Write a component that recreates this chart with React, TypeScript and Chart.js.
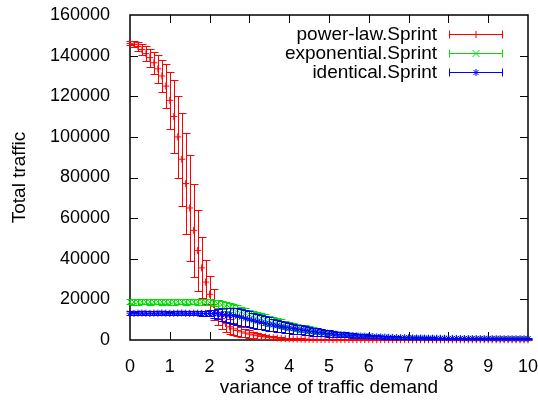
import { useEffect, useRef } from 'react';
import { Chart, registerables } from 'chart.js';

Chart.register(...registerables);

const xValues = [
  0, 0.1, 0.2, 0.3, 0.4, 0.5, 0.6, 0.7, 0.8, 0.9,
  1, 1.1, 1.2, 1.3, 1.4, 1.5, 1.6, 1.7, 1.8, 1.9,
  2, 2.1, 2.2, 2.3, 2.4, 2.5, 2.6, 2.7, 2.8, 2.9,
  3, 3.1, 3.2, 3.3, 3.4, 3.5, 3.6, 3.7, 3.8, 3.9,
  4, 4.1, 4.2, 4.3, 4.4, 4.5, 4.6, 4.7, 4.8, 4.9,
  5, 5.1, 5.2, 5.3, 5.4, 5.5, 5.6, 5.7, 5.8, 5.9,
  6, 6.1, 6.2, 6.3, 6.4, 6.5, 6.6, 6.7, 6.8, 6.9,
  7, 7.1, 7.2, 7.3, 7.4, 7.5, 7.6, 7.7, 7.8, 7.9,
  8, 8.1, 8.2, 8.3, 8.4, 8.5, 8.6, 8.7, 8.8, 8.9,
  9, 9.1, 9.2, 9.3, 9.4, 9.5, 9.6, 9.7, 9.8, 9.9,
  10,
];

const powerLaw = [
  146000, 145500, 144500, 143000, 141000, 139000, 136500, 133500, 130000, 125000,
  118000, 110000, 100000, 89000, 77000, 65000, 54000, 44000, 35500, 28500,
  22500, 17500, 13500, 10500, 8200, 6500, 5500, 4700, 4000, 3400,
  2900, 2500, 2100, 1800, 1500, 1300, 1100, 950, 800, 700,
  600, 530, 470, 420, 380, 340, 310, 280, 260, 240,
  220, 210, 200, 190, 185, 180, 175, 170, 165, 160,
  155, 150, 148, 145, 142, 140, 138, 135, 132, 130,
  128, 126, 124, 122, 120, 118, 116, 115, 114, 112,
  110, 109, 108, 107, 106, 105, 104, 103, 102, 101,
  100, 100, 99, 99, 98, 98, 97, 97, 96, 96,
  95,
];
const powerLawErr = [
  1000, 1500, 2000, 2500, 3500, 4500, 5500, 7000, 8000, 11000,
  14000, 18000, 20000, 23000, 25000, 26000, 23000, 20000, 15000, 11000,
  9000, 7500, 6000, 5000, 4300, 3600, 3100, 2700, 2400, 2100,
  1800, 1600, 1400, 1200, 1050, 900, 800, 700, 600, 520,
  460, 410, 370, 330, 300, 270, 250, 230, 210, 200,
  190, 180, 170, 160, 155, 150, 145, 140, 135, 130,
  125, 120, 118, 115, 112, 110, 108, 106, 104, 102,
  100, 98, 96, 94, 92, 90, 88, 87, 86, 85,
  84, 83, 82, 81, 80, 79, 78, 77, 76, 75,
  74, 73, 72, 71, 70, 69, 68, 67, 66, 65,
  64,
];

const exponential = [
  18800, 18700, 18800, 18900, 18800, 18700, 18800, 18900, 18800, 18800,
  18700, 18800, 18900, 18800, 18700, 18800, 18800, 18700, 18700, 18600,
  18500, 18200, 17800, 17300, 16700, 16000, 15300, 14600, 13900, 13200,
  12500, 11900, 11300, 10700, 10100, 9500, 9000, 8500, 8000, 7500,
  7000, 6600, 6200, 5800, 5450, 5100, 4800, 4500, 4200, 3950,
  3700, 3450, 3200, 3000, 2800, 2600, 2450, 2300, 2150, 2000,
  1880, 1770, 1670, 1580, 1500, 1420, 1350, 1290, 1230, 1180,
  1130, 1090, 1050, 1010, 980, 950, 920, 895, 870, 850,
  830, 810, 795, 780, 765, 750, 740, 730, 720, 710,
  700, 690, 680, 670, 660, 650, 645, 640, 635, 630,
  625,
];
const exponentialErr = [
  1300, 1300, 1400, 1300, 1300, 1400, 1300, 1300, 1400, 1300,
  1300, 1400, 1300, 1300, 1400, 1300, 1300, 1400, 1400, 1400,
  1500, 1700, 1900, 2100, 2200, 2300, 2300, 2400, 2400, 2500,
  2500, 2500, 2500, 2500, 2500, 2400, 2300, 2200, 2100, 2000,
  1950, 1900, 1850, 1800, 1700, 1600, 1500, 1400, 1300, 1200,
  1100, 1000, 950, 900, 850, 800, 750, 700, 650, 600,
  560, 520, 490, 460, 430, 400, 380, 360, 340, 320,
  300, 290, 280, 270, 260, 250, 240, 230, 220, 210,
  200, 195, 190, 185, 180, 175, 170, 165, 160, 155,
  150, 148, 146, 144, 142, 140, 138, 136, 134, 132,
  130,
];

const identical = [
  13200, 13100, 13200, 13300, 13200, 13100, 13200, 13200, 13300, 13200,
  13100, 13200, 13200, 13300, 13200, 13100, 13200, 13200, 13100, 13100,
  13100, 13000, 12800, 12600, 12400, 12200, 12000, 11600, 11200, 10700,
  10200, 9700, 9200, 8700, 8200, 7800, 7400, 7000, 6600, 6200,
  5900, 5600, 5300, 5000, 4700, 4400, 4100, 3900, 3600, 3400,
  3200, 3000, 2800, 2650, 2500, 2350, 2200, 2050, 1950, 1850,
  1750, 1650, 1560, 1480, 1400, 1330, 1270, 1210, 1160, 1110,
  1070, 1030, 990, 960, 930, 900, 880, 860, 840, 820,
  800, 785, 770, 755, 740, 730, 720, 710, 700, 690,
  680, 675, 670, 665, 660, 655, 650, 645, 640, 635,
  630,
];
const identicalErr = [
  900, 900, 1000, 900, 900, 1000, 900, 900, 1000, 900,
  900, 1000, 900, 900, 1000, 1000, 1000, 1100, 1200, 1400,
  1500, 2000, 2500, 3000, 3400, 3700, 4000, 4100, 4100, 4000,
  3900, 3800, 3600, 3500, 3400, 3300, 3100, 3000, 2800, 2700,
  2600, 2400, 2300, 2200, 2100, 2000, 1900, 1800, 1700, 1600,
  1500, 1400, 1300, 1250, 1200, 1100, 1050, 1000, 950, 900,
  850, 800, 760, 720, 680, 640, 600, 570, 540, 510,
  480, 460, 440, 420, 400, 380, 360, 340, 320, 300,
  290, 280, 270, 260, 250, 240, 230, 220, 210, 200,
  195, 190, 185, 180, 175, 170, 165, 160, 155, 150,
  145,
];

const seriesLabels = ['power-law.Sprint', 'exponential.Sprint', 'identical.Sprint'];
const seriesColors = ['#ff0000', '#00e000', '#0000ff'];
const seriesMarkers = ['cross', 'crossRot', 'star'];
const xTitle = 'variance of traffic demand';
const yTitle = 'Total traffic';

const FONT = "'Liberation Sans', Arial, sans-serif";

function drawMarker(ctx: CanvasRenderingContext2D, style: string, x: number, y: number, r: number) {
  ctx.beginPath();
  if (style === 'cross' || style === 'star') {
    ctx.moveTo(x - r, y); ctx.lineTo(x + r, y);
    ctx.moveTo(x, y - r); ctx.lineTo(x, y + r);
  }
  if (style === 'crossRot' || style === 'star') {
    const d = style === 'star' ? r * 0.75 : r;
    ctx.moveTo(x - d, y - d); ctx.lineTo(x + d, y + d);
    ctx.moveTo(x - d, y + d); ctx.lineTo(x + d, y - d);
  }
  ctx.stroke();
}

const errorBarPlugin = {
  id: 'errorBars',
  beforeDatasetDraw(chart: any, args: any) {
    const ds = chart.data.datasets[args.index];
    const errs: number[] = ds.errors;
    if (!errs) return;
    const { ctx, scales } = chart;
    const xs = scales.x;
    const ys = scales.y;
    const cap = 4;
    ctx.save();
    ctx.strokeStyle = ds.borderColor;
    ctx.lineWidth = 1;
    ctx.beginPath();
    ds.data.forEach((p: any, i: number) => {
      const px = Math.round(xs.getPixelForValue(p.x)) + 0.5;
      const top = Math.round(ys.getPixelForValue(p.y + errs[i])) + 0.5;
      const bot = Math.round(ys.getPixelForValue(p.y - errs[i])) + 0.5;
      ctx.moveTo(px, top); ctx.lineTo(px, bot);
      ctx.moveTo(px - cap, top); ctx.lineTo(px + cap, top);
      ctx.moveTo(px - cap, bot); ctx.lineTo(px + cap, bot);
    });
    ctx.stroke();
    ctx.restore();
  },
};

const framePlugin = {
  id: 'frame',
  beforeDatasetsDraw(chart: any) {
    const { ctx, chartArea, scales } = chart;
    const { left, right, top, bottom } = chartArea;
    const tl = 8;
    ctx.save();
    ctx.strokeStyle = '#000';
    ctx.lineWidth = 1.5;
    ctx.strokeRect(left, top, right - left, bottom - top);
    ctx.lineWidth = 1;
    ctx.beginPath();
    scales.x.ticks.forEach((t: any) => {
      const px = Math.round(scales.x.getPixelForValue(t.value)) + 0.5;
      if (px <= left + 1 || px >= right - 1) return;
      ctx.moveTo(px, bottom); ctx.lineTo(px, bottom - tl);
      ctx.moveTo(px, top); ctx.lineTo(px, top + tl);
    });
    scales.y.ticks.forEach((t: any) => {
      const py = Math.round(scales.y.getPixelForValue(t.value)) + 0.5;
      if (py <= top + 1 || py >= bottom - 1) return;
      ctx.moveTo(left, py); ctx.lineTo(left + tl, py);
      ctx.moveTo(right, py); ctx.lineTo(right - tl, py);
    });
    ctx.stroke();
    ctx.restore();
  },
};

const legendPlugin = {
  id: 'customLegend',
  afterDraw(chart: any) {
    const { ctx } = chart;
    const textRight = 437;
    const lineL = 449;
    const lineR = 503;
    const rows = [33.5, 52.7, 71.7];
    ctx.save();
    ctx.font = `19px ${FONT}`;
    ctx.textAlign = 'right';
    ctx.textBaseline = 'middle';
    chart.data.datasets.forEach((ds: any, i: number) => {
      const y = rows[i];
      ctx.fillStyle = '#000';
      ctx.fillText(ds.label, textRight, y + 1);
      ctx.strokeStyle = ds.borderColor;
      ctx.lineWidth = 1;
      const yy = Math.round(y) + 0.5;
      ctx.beginPath();
      ctx.moveTo(lineL, yy); ctx.lineTo(lineR, yy);
      ctx.moveTo(lineL + 0.5, yy - 4); ctx.lineTo(lineL + 0.5, yy + 4);
      ctx.moveTo(lineR - 0.5, yy - 4); ctx.lineTo(lineR - 0.5, yy + 4);
      ctx.stroke();
      drawMarker(ctx, seriesMarkers[i], (lineL + lineR) / 2, yy, 3.5);
    });
    ctx.restore();
  },
};

export default function App() {
  const ref = useRef<HTMLCanvasElement | null>(null);
  useEffect(() => {
    if (!ref.current) return;
    const series = [
      { values: powerLaw, errs: powerLawErr },
      { values: exponential, errs: exponentialErr },
      { values: identical, errs: identicalErr },
    ];
    const chart = new Chart(ref.current, {
      type: 'scatter',
      data: {
        datasets: series.map((s, i) => ({
          label: seriesLabels[i],
          data: xValues.map((x, j) => ({ x, y: s.values[j] })),
          errors: s.errs,
          borderColor: seriesColors[i],
          backgroundColor: seriesColors[i],
          pointStyle: seriesMarkers[i],
          pointRadius: 3.5,
          pointBorderWidth: 1,
          showLine: false,
          clip: 10,
          order: 2 - i,
        })) as any,
      },
      options: {
        animation: false,
        responsive: false,
        layout: { padding: { top: 15, right: 10, left: 0, bottom: 0 } },
        plugins: { legend: { display: false }, tooltip: { enabled: false } },
        scales: {
          x: {
            type: 'linear',
            min: 0,
            max: 10,
            ticks: { stepSize: 1, color: '#000', font: { family: FONT, size: 18 }, padding: 8, maxRotation: 0 },
            grid: { display: false },
            border: { display: false },
            title: { display: true, text: xTitle, color: '#000', font: { family: FONT, size: 19 }, padding: { top: 0, bottom: 0.5 } },
            afterFit: (s: any) => { s.height = 60; s.paddingLeft = 0; s.paddingRight = 0; },
          },
          y: {
            type: 'linear',
            min: 0,
            max: 160000,
            ticks: { stepSize: 20000, color: '#000', font: { family: FONT, size: 18 }, padding: 12, callback: (v: any) => String(v) },
            grid: { display: false },
            border: { display: false },
            title: { display: true, text: yTitle, color: '#000', font: { family: FONT, size: 19 }, padding: { top: 8, bottom: 0 } },
            afterFit: (s: any) => { s.width = 130; s.paddingTop = 0; s.paddingBottom = 0; },
          },
        },
      } as any,
      plugins: [errorBarPlugin, framePlugin, legendPlugin],
    });
    return () => chart.destroy();
  }, []);
  return (
    <div style={{ position: 'absolute', left: 0, top: 0, width: 538, height: 400, background: '#fff' }}>
      <canvas ref={ref} width={538} height={400} style={{ display: 'block' }} />
    </div>
  );
}
